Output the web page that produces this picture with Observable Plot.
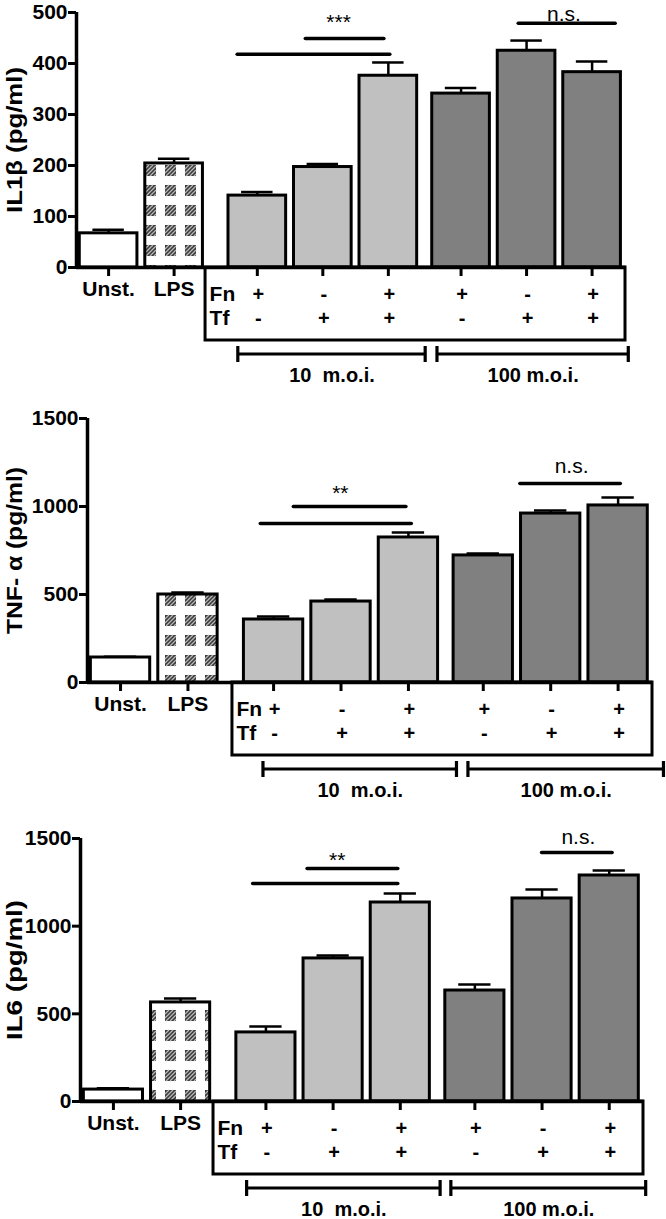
<!DOCTYPE html>
<html><head><meta charset="utf-8">
<script src="https://cdn.jsdelivr.net/npm/d3@7"></script>
<script src="https://cdn.jsdelivr.net/npm/@observablehq/plot@0.6"></script>
<style>
body{margin:0;background:#fff;}
#chart{width:666px;}
#chart svg{display:block;}
</style></head><body><div id="chart"></div>
<script>
// ---------- data ----------
const conditions = ["Unst.", "LPS", "10 Fn+Tf-", "10 Fn-Tf+", "10 Fn+Tf+", "100 Fn+Tf-", "100 Fn-Tf+", "100 Fn+Tf+"];
const groupOf   = ["ctrl", "ctrl", "moi10", "moi10", "moi10", "moi100", "moi100", "moi100"];
const fnRow = ["", "", "+", "-", "+", "+", "-", "+"];
const tfRow = ["", "", "-", "+", "+", "-", "+", "+"];
const moiLabels = ["10  m.o.i.", "100 m.o.i."];
const yTicks1 = [0, 100, 200, 300, 400, 500];
const yTicks23 = [0, 500, 1000, 1500];

const il1bMean = [67, 204, 141, 197, 376, 341, 425, 383];
const il1bErr  = [7, 9, 7, 6, 26, 11, 20, 21];
const tnfMean  = [142, 500, 358, 460, 824, 722, 960, 1006];
const tnfErr   = [4, 11, 17, 12, 28, 11, 17, 45];
const il6Mean  = [68, 565, 394, 816, 1135, 633, 1158, 1289];
const il6Err   = [8, 23, 34, 17, 52, 34, 51, 29];

// significance annotations (value units)
const sig1 = [{x1: 1.97, x2: 4.30, y: 418}, {x1: 3.01, x2: 4.21, y: 449}, {x1: 6.26, x2: 7.74, y: 479}];
const sig2 = [{x1: 2.08, x2: 4.32, y: 903}, {x1: 2.57, x2: 4.24, y: 1000}, {x1: 5.93, x2: 7.42, y: 1131}];
const sig3 = [{x1: 2.08, x2: 4.24, y: 1243}, {x1: 2.89, x2: 4.24, y: 1329}, {x1: 6.38, x2: 7.43, y: 1420}];
const sigText1 = [{x: 3.51, y: 480, t: "***"}, {x: 6.95, y: 497, t: "n.s."}];
const sigText2 = [{x: 3.26, y: 1074, t: "**"}, {x: 6.69, y: 1227, t: "n.s."}];
const sigText3 = [{x: 3.33, y: 1375, t: "**"}, {x: 6.92, y: 1506, t: "n.s."}];

// ---------- layout ----------
const gapAfterCtrl = 0.27, gapBetweenMoi = 0.11;
const pos = conditions.map((c, i) => i + (i >= 2 ? gapAfterCtrl : 0) + (i >= 5 ? gapBetweenMoi : 0));
const xDomain = [-0.49, 7.89];
const fills = {ctrl: "#ffffff", moi10: "#c0c0c0", moi100: "#808080"};
const FONT = "'Liberation Sans', Arial, Helvetica, sans-serif";

function panel(cfg) {
  const data = conditions.map((c, i) => ({
    c, pos: pos[i], v: cfg.mean[i], e: cfg.err[i],
    fill: c === "LPS" ? "url(#lpsPattern)" : fills[groupOf[i]],
    fn: fnRow[i], tf: tfRow[i]
  }));
  const tickLabel = new Map([[pos[0], conditions[0]], [pos[1], conditions[1]]]);
  const plot = Plot.plot({
    width: 666, height: cfg.height,
    marginTop: cfg.marginTop, marginLeft: cfg.marginLeft, marginRight: cfg.marginRight,
    marginBottom: cfg.height - cfg.y0,
    x: {domain: xDomain, axis: null},
    y: {domain: [0, cfg.yMax], axis: null},
    color: {type: "identity"},
    style: {fontFamily: FONT, fontWeight: "bold", fontSize: "20px", color: "#000", background: "#fff", overflow: "visible"},
    marks: [
      Plot.rect(data, {x1: d => d.pos - 0.44, x2: d => d.pos + 0.44, y1: 0, y2: "v", fill: "fill", stroke: "#000", strokeWidth: 3}),
      Plot.ruleX(data, {x: "pos", y1: "v", y2: d => d.v + d.e, stroke: "#000", strokeWidth: 2.5}),
      Plot.ruleY(data, {x1: d => d.pos - 0.24, x2: d => d.pos + 0.24, y: d => d.v + d.e, stroke: "#000", strokeWidth: 2.5}),
      Plot.ruleY([0], {stroke: "#000", strokeWidth: 3.5}),
      Plot.ruleX([xDomain[0]], {stroke: "#000", strokeWidth: 3.5}),
      Plot.axisY({ticks: cfg.yTicks, tickSize: 8, tickPadding: 1, strokeWidth: 3, label: null,
        tickFormat: d => String(d), fontSize: 21, fontWeight: "bold"}),
      Plot.axisX({ticks: pos, tickSize: 9, tickPadding: 5, strokeWidth: 3, label: null,
        tickFormat: d => tickLabel.get(d) || "", fontSize: 21, fontWeight: "bold"}),
      Plot.text([cfg.yLabel], {text: d => d, frameAnchor: "left", rotate: -90, dx: -(cfg.marginLeft - 14), fontSize: 22, fontWeight: "bold", className: "ylab"}),
      Plot.ruleY(cfg.sig, {x1: "x1", x2: "x2", y: "y", stroke: "#000", strokeWidth: 3.5, strokeLinecap: "round"}),
      Plot.text(cfg.sigText, {x: "x", y: "y", text: "t", fontWeight: "normal", fontSize: 21}),
      Plot.text(data.filter(d => d.fn), {x: "pos", y: 0, dy: 27, dx: 1, text: "fn", fontSize: 20}),
      Plot.text(data.filter(d => d.tf), {x: "pos", y: 0, dy: 51, dx: 1, text: "tf", fontSize: 20}),
      Plot.text(["Fn"], {x: cfg.boxLeft, y: 0, dy: 27, dx: 4, text: d => d, textAnchor: "start", fontSize: 21}),
      Plot.text(["Tf"], {x: cfg.boxLeft, y: 0, dy: 51, dx: 4, text: d => d, textAnchor: "start", fontSize: 21}),
      Plot.text(cfg.brackets, {x: d => (d.x1 + d.x2) / 2, y: 0, dy: 108, text: "label", fontSize: 20, className: "moi"})
    ]
  });
  const sx = plot.scale("x"), sy = plot.scale("y");
  const y0 = sy.apply(0);
  const svg = d3.select(plot);
  svg.selectAll(".moi text").style("white-space", "pre");
  // Fn/Tf table box
  const bx = sx.apply(cfg.boxLeft), bx2 = sx.apply(xDomain[1]);
  svg.append("rect").attr("x", bx).attr("y", y0).attr("width", bx2 - bx).attr("height", 73)
    .attr("fill", "none").attr("stroke", "#000").attr("stroke-width", 3);
  // m.o.i. brackets
  for (const b of cfg.brackets) {
    const a = sx.apply(b.x1), z = sx.apply(b.x2), yb = y0 + 87;
    svg.append("path").attr("d", `M${a},${yb}H${z}M${a},${yb - 8}V${yb + 8}M${z},${yb - 8}V${yb + 8}`)
      .attr("fill", "none").attr("stroke", "#000").attr("stroke-width", 3.2);
  }
  return plot;
}

const cfgs = [
  {height: 390, marginTop: 12, y0: 267, marginLeft: 76, marginRight: 41, yMax: 500, yTicks: yTicks1,
   yLabel: "IL1β (pg/ml)", yLabelLength: 146, mean: il1bMean, err: il1bErr, sig: sig1, sigText: sigText1, boxLeft: 1.48,
   brackets: [{label: moiLabels[0], x1: 1.98, x2: 4.84}, {label: moiLabels[1], x1: 5.02, x2: 7.94}]},
  {height: 415, marginTop: 28, y0: 292, marginLeft: 87, marginRight: 14, yMax: 1500, yTicks: yTicks23,
   yLabel: "TNF- α (pg/ml)", yLabelLength: 167, mean: tnfMean, err: tnfErr, sig: sig2, sigText: sigText2, boxLeft: 1.66,
   brackets: [{label: moiLabels[0], x1: 2.12, x2: 4.99}, {label: moiLabels[1], x1: 5.16, x2: 8.06}]},
  {height: 414, marginTop: 33, y0: 296, marginLeft: 80, marginRight: 23, yMax: 1500, yTicks: yTicks23,
   yLabel: "IL6 (pg/ml)", yLabelLength: 140, mean: il6Mean, err: il6Err, sig: sig3, sigText: sigText3, boxLeft: 1.49,
   brackets: [{label: moiLabels[0], x1: 1.99, x2: 4.87}, {label: moiLabels[1], x1: 5.03, x2: 7.93}]}
];

const chart = document.getElementById("chart");
// pattern definition for the LPS bar
const defsSvg = d3.create("svg").attr("width", 0).attr("height", 0).style("position", "absolute");
const pat = defsSvg.append("defs").append("pattern").attr("id", "lpsPattern")
  .attr("patternUnits", "userSpaceOnUse").attr("width", 20).attr("height", 20);
pat.append("rect").attr("width", 20).attr("height", 20).attr("fill", "#fff");
pat.append("rect").attr("x", 5).attr("y", 5).attr("width", 11).attr("height", 11).attr("fill", "#3a3a3a");
pat.append("path").attr("d", "M5,9L9,5M5,13L13,5M6,16L16,6M10,16L16,10M14,16L16,14")
  .attr("stroke", "#b8b8b8").attr("stroke-width", 1.3);
chart.appendChild(defsSvg.node());
for (const c of cfgs) {
  const p = panel(c);
  chart.appendChild(p);
  // stretch the y label to the reference length while keeping it centred
  d3.select(p).selectAll(".ylab text").each(function() {
    const natural = this.getComputedTextLength();
    const L = c.yLabelLength;
    d3.select(this).attr("textLength", L).attr("lengthAdjust", "spacingAndGlyphs")
      .attr("text-anchor", "start").attr("x", -L / 2);
  });
}
</script></body></html>
